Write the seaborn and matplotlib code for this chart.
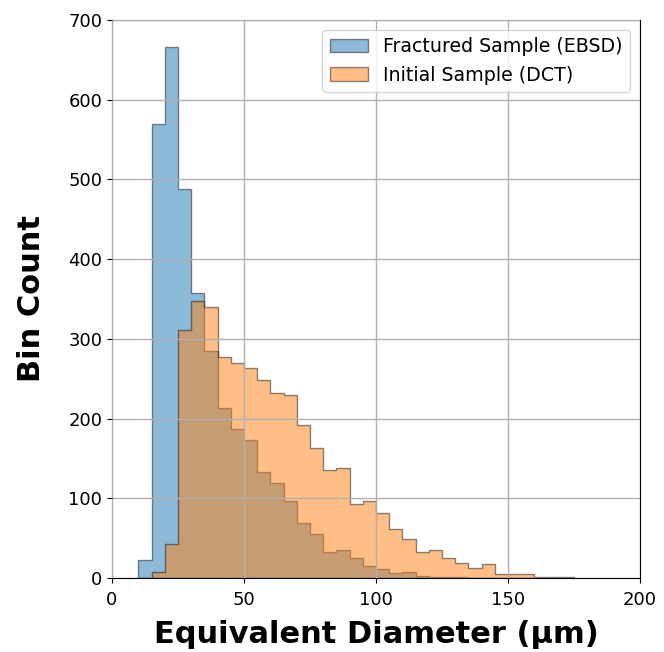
import numpy as np
import matplotlib
matplotlib.use("Agg")
import matplotlib.pyplot as plt
import seaborn as sns
import pandas as pd

# Bin edges (µm)
bin_edges = list(range(10, 180, 5))

# Counts per bin (Fractured Sample, EBSD)
ebsd_counts = [22, 570, 666, 488, 358, 285, 213, 187, 173, 133, 119, 96, 69, 55,
               32, 35, 25, 15, 11, 6, 7, 2, 1, 1, 1, 0, 0, 0, 0, 0, 0, 0, 0]
# Counts per bin (Initial Sample, DCT)
dct_counts = [0, 7, 43, 311, 348, 340, 277, 270, 263, 248, 232, 229, 192, 163,
              136, 138, 93, 96, 81, 62, 49, 32, 35, 25, 19, 13, 17, 5, 5, 5, 1, 1, 1]

labels = ["Fractured Sample (EBSD)", "Initial Sample (DCT)"]
x_ticks = [0, 50, 100, 150, 200]
y_ticks = [0, 100, 200, 300, 400, 500, 600, 700]

edges = np.array(bin_edges, dtype=float)
centers = (edges[:-1] + edges[1:]) / 2

fig = plt.figure(figsize=(6.64, 6.52), dpi=100)
ax = fig.add_axes([112 / 664, 1 - 578 / 652, 528 / 664, 558 / 652])

for counts, color, lab in [(ebsd_counts, "#1f77b4", labels[0]),
                           (dct_counts, "#ff7f0e", labels[1])]:
    df = pd.DataFrame({"d": centers, "w": np.array(counts, dtype=float)})
    sns.histplot(data=df, x="d", weights="w", bins=list(bin_edges), element="step",
                 fill=True, color=color, alpha=0.5, edgecolor=(0, 0, 0, 0.45),
                 linewidth=1, label=lab, ax=ax)

ax.set_xlim(0, 200)
ax.set_ylim(0, 700)
ax.set_xticks(x_ticks)
ax.set_yticks(y_ticks)
ax.tick_params(labelsize=13)
ax.tick_params(axis="x", pad=6)
ax.set_axisbelow(False)
ax.grid(True, color="#b0b0b0", linewidth=1)
ax.set_xlabel("Equivalent Diameter (µm)", fontsize=22, fontweight="bold", labelpad=8)
ax.set_ylabel("Bin Count", fontsize=22, fontweight="bold", labelpad=16)
ax.legend(loc="upper right", fontsize=13.7)

fig.savefig("out.png", dpi=100)
